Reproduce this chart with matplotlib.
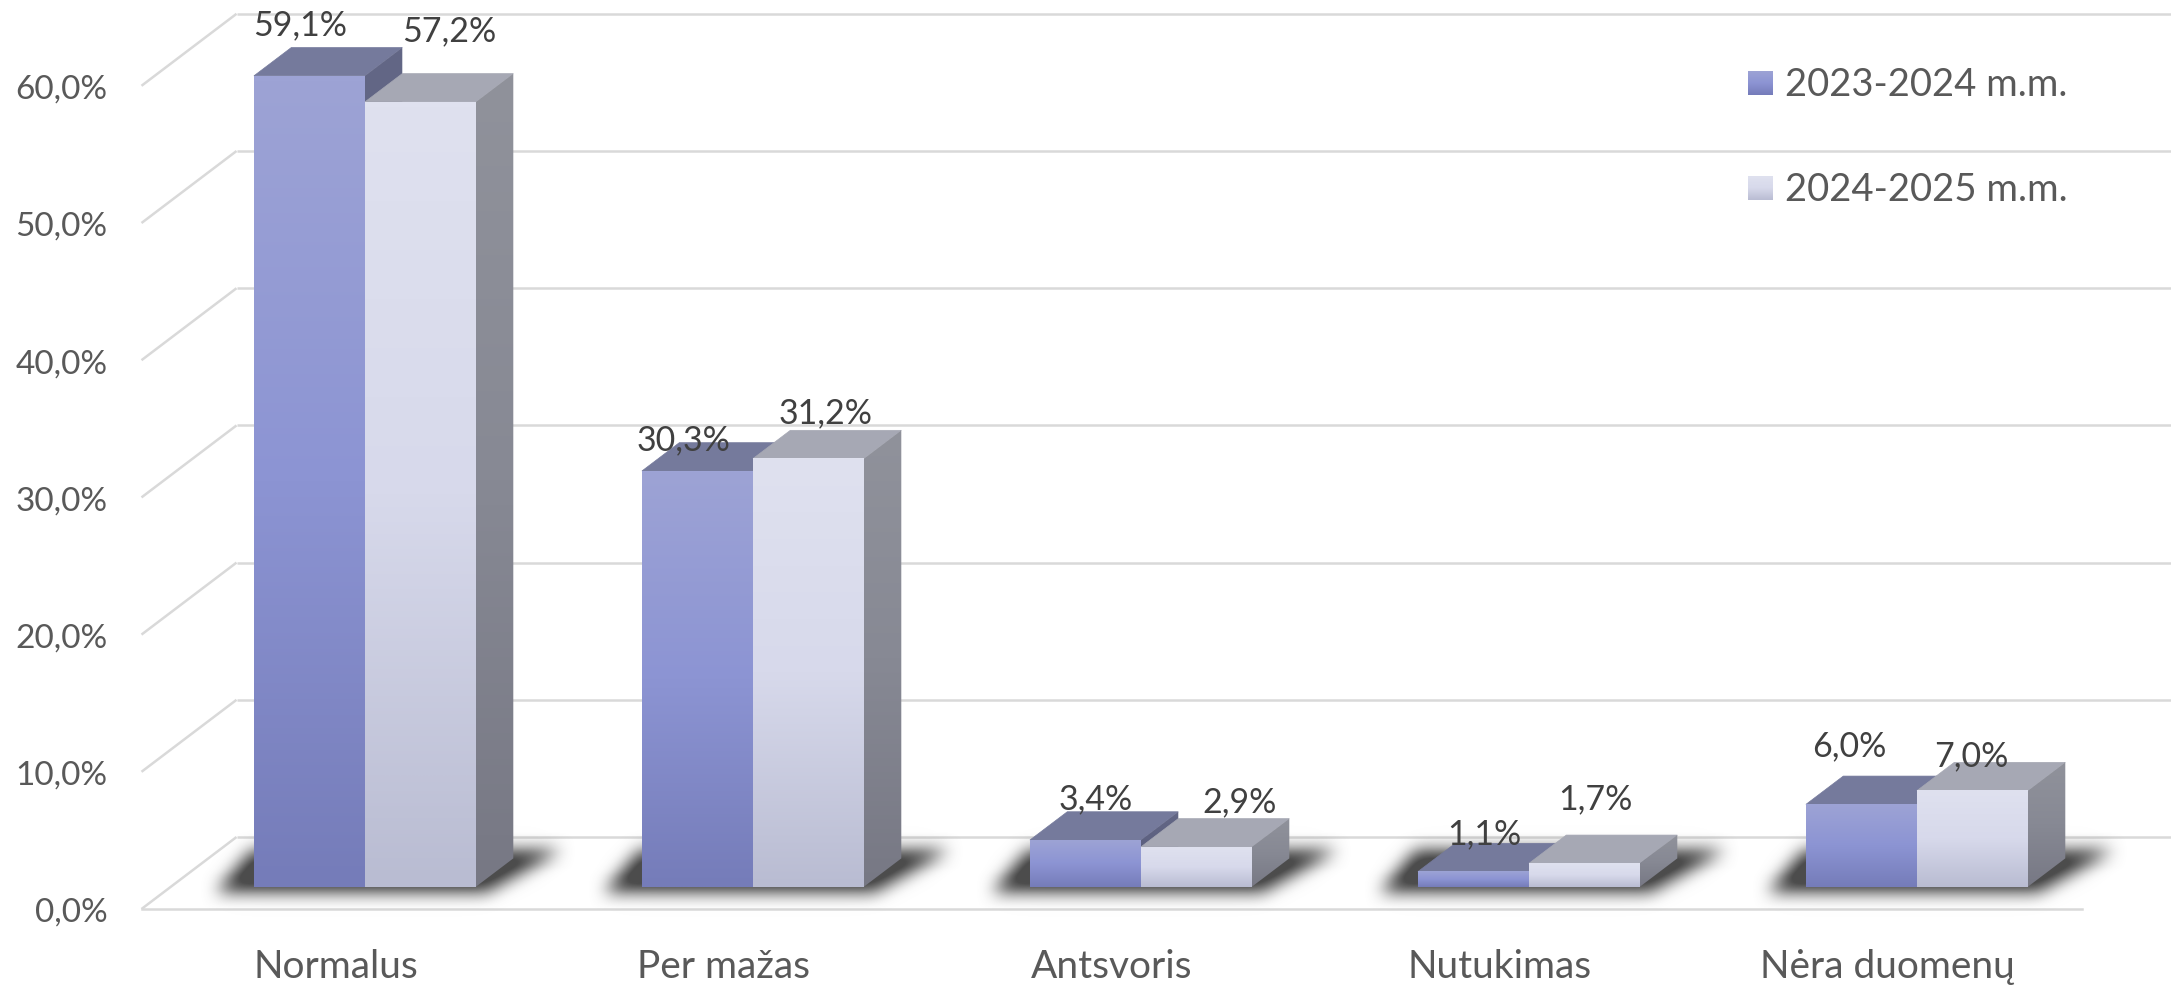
"""3D-style clustered bars (oblique projection) with gradient faces."""
import matplotlib
matplotlib.use("Agg")
import matplotlib.pyplot as plt
import numpy as np
from matplotlib.colors import LinearSegmentedColormap
from matplotlib.patches import Polygon
from matplotlib.path import Path

plt.rcParams["font.family"] = ["Lato", "DejaVu Sans"]

categories = ["Normalus", "Per mažas", "Antsvoris", "Nutukimas", "Nėra duomenų"]
series_names = ["2023-2024 m.m.", "2024-2025 m.m."]
values_a = [59.1, 30.3, 3.4, 1.1, 6.0]
values_b = [57.2, 31.2, 2.9, 1.7, 7.0]
labels_a = ["59,1%", "30,3%", "3,4%", "1,1%", "6,0%"]
labels_b = ["57,2%", "31,2%", "2,9%", "1,7%", "7,0%"]
y_ticks = [0, 10, 20, 30, 40, 50, 60]
y_tick_labels = ["0,0%", "10,0%", "20,0%", "30,0%", "40,0%", "50,0%", "60,0%"]

# hand placed data labels, pixels from the middle of the bar's front top edge
label_off_a = [(-9, 52), (-14, 32), (10, 42), (11, 38), (-12, 59)]
label_off_b = [(29, 72), (17, 46), (43, 46), (11, 65), (-1, 35)]

W, H = 2171, 987
X0, Y0 = 141.5, 910.0      # front left corner of the floor, pixels from top left
CAT_W = 388.0              # pixels per category
PX_PER_PCT = 13.72
SHEAR = 1.32               # x shift per pixel of depth
BAR_D0, BAR_D = 22.3, 28.3 # bar start depth and bar thickness
WALL_D = 72.0
BAR_W = 111.0 / CAT_W

front_a = ["#9da3d5", "#8c94d3", "#757cb9"]
front_b = ["#dfe1ef", "#d7d9eb", "#b9bcd2"]
side_a = ["#636786", "#5c607f", "#55597a"]
side_b = ["#90929b", "#878994", "#777884"]
top_a, top_b = "#757a9c", "#a6a8b4"
GRID = "#d9d9d9"
TICK_TXT = "#595959"
LABEL_TXT = "#404040"


def dx(d):
    return SHEAR * d / CAT_W


def dy(d):
    return d / PX_PER_PCT


def xdata(px):
    return (px - X0) / CAT_W - 0.5


def ydata(py):
    return (Y0 - py) / PX_PER_PCT


def gradient(ax, colors, extent, z, clip=None):
    cmap = LinearSegmentedColormap.from_list("g", colors)
    im = ax.imshow(np.linspace(0, 1, 256)[:, None], cmap=cmap, extent=extent,
                   aspect="auto", zorder=z, interpolation="bilinear", origin="upper")
    if clip is None:
        im.set_clip_on(False)
    else:
        im.set_clip_path(Polygon(clip, transform=ax.transData))
    return im


def draw_bar(ax, x, v, front, side, top, z):
    d0, d1 = BAR_D0, BAR_D0 + BAR_D
    l, r = x - BAR_W / 2, x + BAR_W / 2
    # top face
    ax.add_patch(Polygon([(l + dx(d0), v + dy(d0)), (r + dx(d0), v + dy(d0)),
                          (r + dx(d1), v + dy(d1)), (l + dx(d1), v + dy(d1))],
                         facecolor=top, edgecolor=top, lw=0.5, zorder=z, clip_on=False))
    # right side, gradient clipped to the parallelogram
    pts = [(r + dx(d0), dy(d0)), (r + dx(d1), dy(d1)),
           (r + dx(d1), v + dy(d1)), (r + dx(d0), v + dy(d0))]
    gradient(ax, side, (r + dx(d0), r + dx(d1), dy(d0), v + dy(d1)), z, clip=pts)
    # front
    gradient(ax, front, (l + dx(d0), r + dx(d0), dy(d0), v + dy(d0)), z + 0.1)


def box_blur(a, n):
    k = np.ones(n) / n
    a = np.apply_along_axis(lambda s: np.convolve(s, k, mode="same"), 0, a)
    return np.apply_along_axis(lambda s: np.convolve(s, k, mode="same"), 1, a)


def shadow_image(ax):
    # floor shadow below each bar pair, blurred by hand
    top, bot = 800, 950
    xs, ys = np.meshgrid(np.arange(W) + 0.5, np.arange(top, bot) + 0.5)
    pts = np.column_stack([xs.ravel(), ys.ravel()])
    mask = np.zeros(xs.shape)
    for i in range(len(categories)):
        c = X0 + CAT_W * (i + 0.5) + SHEAR * BAR_D0
        L, R = c - 111, c + 111
        path = Path([(L - 38, 893), (R + 10, 893), (R + 86, 851), (L - 2, 851)])
        mask = np.maximum(mask, path.contains_points(pts).reshape(xs.shape))
    wide = box_blur(box_blur(mask, 41), 41)
    soft = box_blur(box_blur(mask, 19), 19)
    rgba = np.zeros(mask.shape + (4,))
    rgba[..., :3] = 0.3
    rgba[..., 3] = np.clip(soft * 1.15 + wide * 0.05, 0, 1)
    im = ax.imshow(rgba, extent=(xdata(0), xdata(W), ydata(bot), ydata(top)),
                   aspect="auto", zorder=2, origin="upper", interpolation="bilinear")
    im.set_clip_on(False)


fig = plt.figure(figsize=(W / 100, H / 100), dpi=100)
ax = fig.add_axes([X0 / W, (H - Y0) / H, CAT_W * 5 / W, Y0 / H])

# walls and floor
for t in y_ticks:
    ax.plot([-0.5, -0.5 + dx(WALL_D)], [t, t + dy(WALL_D)], color=GRID, lw=1.8,
            zorder=1, clip_on=False, solid_capstyle="butt")
    ax.plot([-0.5 + dx(WALL_D), xdata(W)], [t + dy(WALL_D)] * 2, color=GRID, lw=1.8,
            zorder=1, clip_on=False, solid_capstyle="butt")
ax.plot([-0.5, 4.5], [0, 0], color=GRID, lw=1.8, zorder=1, clip_on=False)

shadow_image(ax)

for i in range(len(categories)):
    xa, xb = i - BAR_W / 2, i + BAR_W / 2
    draw_bar(ax, xa, values_a[i], front_a, side_a, top_a, 3 + i)
    draw_bar(ax, xb, values_b[i], front_b, side_b, top_b, 3.5 + i)

for xs_off, vals, labs, offs in [(-BAR_W / 2, values_a, labels_a, label_off_a),
                                 (BAR_W / 2, values_b, labels_b, label_off_b)]:
    for i, (v, s, o) in enumerate(zip(vals, labs, offs)):
        ax.annotate(s, (i + xs_off + dx(BAR_D0), v + dy(BAR_D0)),
                    xytext=(o[0] * 0.72, o[1] * 0.72), textcoords="offset points",
                    ha="center", va="center", fontsize=24.5, color=LABEL_TXT,
                    zorder=20, annotation_clip=False)

# legend
leg_y = [(72, 96), (177, 201)]
for name, (y1, y2), cols in zip(series_names, leg_y, [front_a, front_b]):
    gradient(ax, cols, (xdata(1748), xdata(1773), ydata(y2), ydata(y1)), 20)
    ax.text(xdata(1785), ydata((y1 + y2) / 2 + 1), name, ha="left", va="center",
            fontsize=27.5, color=TICK_TXT, zorder=20)

ax.set_xlim(-0.5, 4.5)
ax.set_ylim(0, Y0 / PX_PER_PCT)
ax.set_xticks(range(len(categories)), categories)
ax.set_yticks(y_ticks, y_tick_labels)
ax.tick_params(axis="x", length=0, labelsize=28, labelcolor=TICK_TXT, pad=28)
ax.tick_params(axis="y", length=0, labelsize=24, labelcolor=TICK_TXT, pad=24.5)
for s in ax.spines.values():
    s.set_visible(False)
ax.patch.set_visible(False)

fig.savefig("out.png", dpi=100, facecolor="white")
